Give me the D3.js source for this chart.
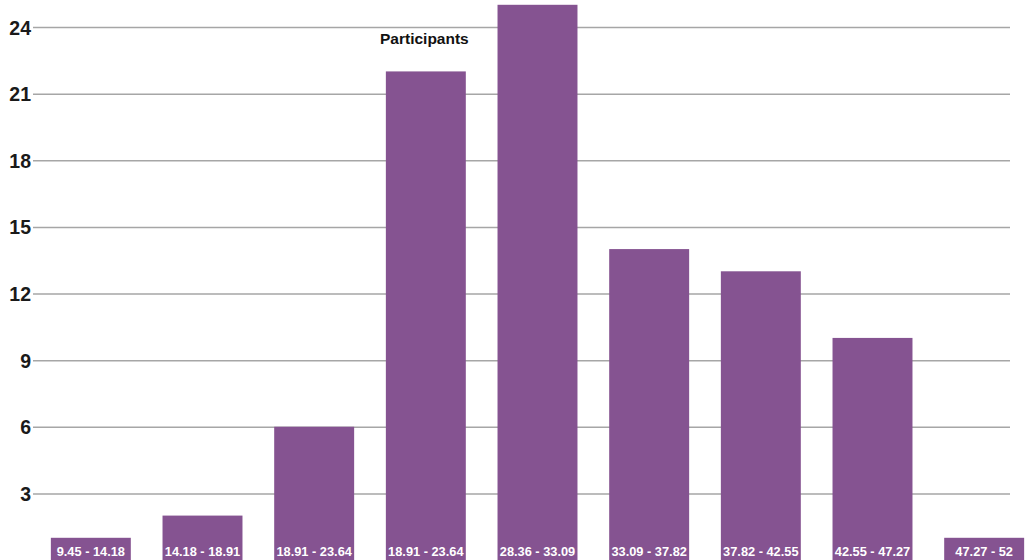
<!DOCTYPE html>
<html>
<head>
<meta charset="utf-8">
<script src="https://cdn.jsdelivr.net/npm/d3@7"></script>
<style>
  html, body { margin: 0; padding: 0; background: #fff; }
  svg { display: block; }
</style>
</head>
<body>
<svg id="chart" width="1025" height="560"></svg>
<script>
const categories = ["9.45 - 14.18", "14.18 - 18.91", "18.91 - 23.64", "18.91 - 23.64", "28.36 - 33.09", "33.09 - 37.82", "37.82 - 42.55", "42.55 - 47.27", "47.27 - 52"];
const participants = [1, 2, 6, 22, 25, 14, 13, 10, 1];
const yTicks = [3, 6, 9, 12, 15, 18, 21, 24];
const title = "Participants";

const svg = d3.select("#chart");

const x = d3.scaleBand()
  .domain(categories.map((d, i) => i))
  .range([35, 1040])
  .paddingInner(0.284)
  .paddingOuter(0.142);

const y = d3.scaleLinear()
  .domain([0, 24])
  .range([560, 27]);

// gridlines
const yAxis = d3.axisLeft(y).tickValues(yTicks).tickSize(-(1010 - 33)).tickPadding(2).tickFormat(d3.format("d"));
const g = svg.append("g").attr("transform", "translate(33,0)").call(yAxis);
g.select(".domain").remove();
g.selectAll(".tick line").attr("stroke", "#a6a6a6").attr("stroke-width", 1.5);
g.selectAll(".tick text")
  .attr("fill", "#1a1a1a")
  .attr("font-family", "Liberation Sans, Arial, sans-serif")
  .attr("font-weight", "bold")
  .attr("font-size", 19.5)
  .attr("dy", "0.36em");

// bars
svg.append("g").selectAll("rect")
  .data(participants)
  .join("rect")
  .attr("x", (d, i) => x(i))
  .attr("width", x.bandwidth())
  .attr("y", d => y(d))
  .attr("height", d => y(0) - y(d))
  .attr("fill", "#855391");

// bar labels
svg.append("g").selectAll("text")
  .data(categories)
  .join("text")
  .attr("x", (d, i) => x(i) + x.bandwidth() / 2)
  .attr("y", 556)
  .attr("text-anchor", "middle")
  .attr("fill", "#ffffff")
  .attr("font-family", "Liberation Sans, Arial, sans-serif")
  .attr("font-weight", "bold")
  .attr("font-size", 12.8)
  .text(d => d);

// title
svg.append("text")
  .attr("x", 380)
  .attr("y", 44)
  .attr("fill", "#111")
  .attr("font-family", "Liberation Sans, Arial, sans-serif")
  .attr("font-weight", "bold")
  .attr("font-size", 15.5)
  .text(title);
</script>
</body>
</html>
